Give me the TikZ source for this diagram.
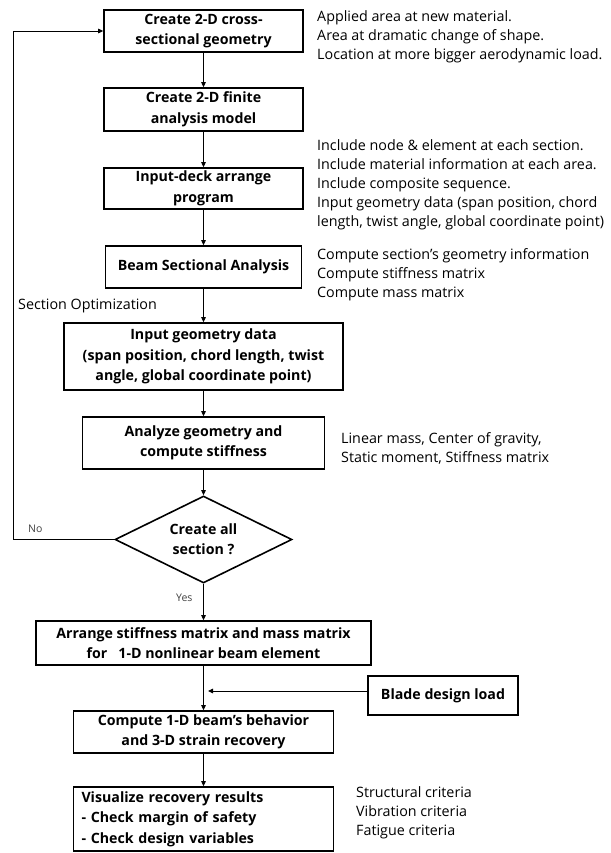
\documentclass[tikz,border=0pt]{standalone}
\usepackage{fontspec}
\setmainfont{Open Sans}
\usetikzlibrary{shapes.geometric,arrows.meta}
\begin{document}
\begin{tikzpicture}[x=1pt,y=-1pt,
  stepbox/.style={draw,line width=1.6pt,align=center,inner sep=0pt,
    font=\bfseries\fontsize{14.2}{20.5}\selectfont},
  decide/.style={draw,line width=1.6pt,diamond,align=center,inner sep=0pt,
    font=\bfseries\fontsize{14.2}{20}\selectfont},
  note/.style={align=left,anchor=west,inner sep=0pt,
    font=\fontsize{14.3}{19}\selectfont},
  small/.style={inner sep=0pt,font=\fontsize{10.5}{12}\selectfont,text=black!75},
  flow/.style={line width=0.9pt,-{Triangle[length=5pt,width=4.5pt]}},
]
\useasboundingbox (0,0) rectangle (610,853);
% main boxes
\node[stepbox,minimum width=199pt,minimum height=42pt] (b1) at (203.5,31) {Create 2-D cross-\\sectional geometry};
\node[stepbox,minimum width=199pt,minimum height=43pt] (b2) at (203.5,109.5) {Create 2-D finite\\analysis model};
\node[stepbox,minimum width=199pt,minimum height=41pt] (b3) at (203.5,188.5) {Input-deck arrange\\program};
\node[stepbox,minimum width=196pt,minimum height=42pt] (b4) at (203.5,267) {Beam Sectional Analysis};
\node[stepbox,minimum width=279pt,minimum height=67pt] (b5) at (203.5,356.5) {Input geometry data\\(span position, chord length, twist\\angle, global coordinate point)};
\node[stepbox,minimum width=242pt,minimum height=52pt] (b6) at (203.5,443) {Analyze geometry and\\compute stiffness};
\node[decide,minimum width=177pt,minimum height=87pt,aspect=2] (d) at (203.5,539.5) {Create all\\section ?};
\node[stepbox,minimum width=335pt,minimum height=44pt] (b7) at (203.5,643) {Arrange stiffness matrix and mass matrix\\for\ \ \ 1-D nonlinear beam element};
\node[stepbox,minimum width=150pt,minimum height=39pt] (bl) at (443,695.5) {Blade design load};
\node[stepbox,minimum width=260pt,minimum height=42pt] (b8) at (203.5,732) {Compute 1-D beam’s behavior\\and 3-D strain recovery};
\node[stepbox,align=left,text width=244pt,inner xsep=8pt,minimum height=64pt] (b9) at (203.5,819) {Visualize recovery results\\- Check margin of safety\\- Check design variables};
% connectors
\draw[flow] (b1) -- (b2);
\draw[flow] (b2) -- (b3);
\draw[flow] (b3) -- (b4);
\draw[flow] (b4) -- (b5);
\draw[flow] (b5) -- (b6);
\draw[flow] (b6) -- (d);
\draw[flow] (d) -- (b7);
\draw[flow] (b7) -- (b8);
\draw[flow] (b8) -- (b9);
\coordinate (lp) at (13,539.5);
\draw[flow] (d.west) -- (lp) |- (b1.west);
\coordinate (bj) at (208,691);
\draw[flow] (bl.west |- bj) -- (bj);
% labels
\node[small,anchor=west] (lno) at (28,529) {No};
\node[small,anchor=west] (lyes) at (176,598) {Yes};
\node[note] (lso) at (18,306) {Section Optimization};
% notes
\node[note] (n1) at (317,37) {Applied area at new material.\\Area at dramatic change of shape.\\Location at more bigger aerodynamic load.};
\node[note] (n2) at (317,184.5) {Include node \& element at each section.\\Include material information at each area.\\Include composite sequence.\\Input geometry data (span position, chord\\length, twist angle, global coordinate point)};
\node[note] (n3) at (317,275) {Compute section’s geometry information\\Compute stiffness matrix\\Compute mass matrix};
\node[note] (n4) at (341,448.5) {Linear mass, Center of gravity,\\Static moment, Stiffness matrix};
\node[note] (n5) at (356,813) {Structural criteria\\Vibration criteria\\Fatigue criteria};
\end{tikzpicture}
\end{document}
